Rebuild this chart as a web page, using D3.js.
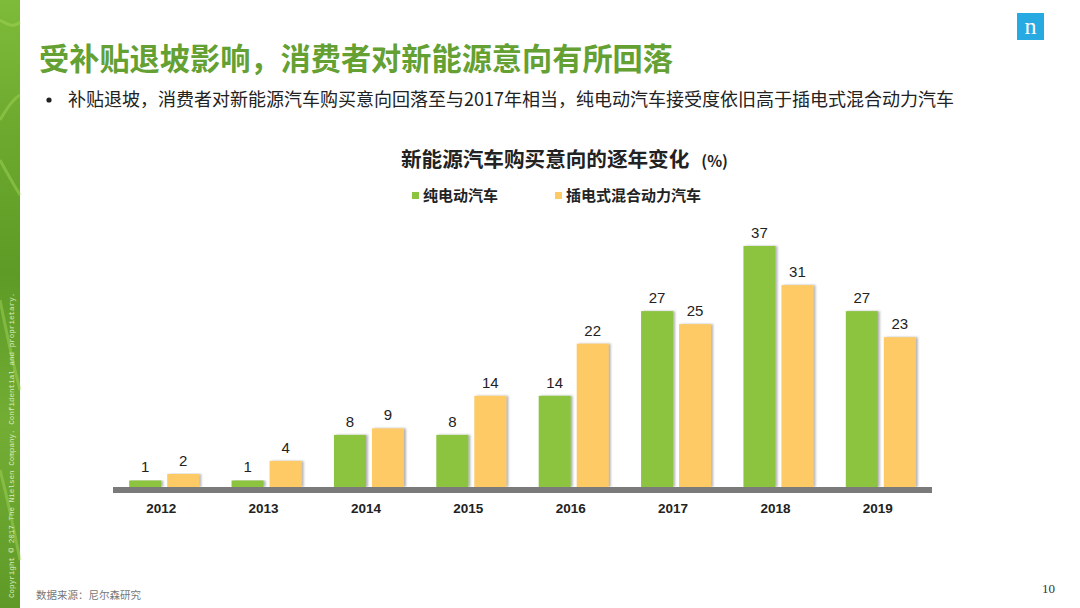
<!DOCTYPE html>
<html>
<head>
<meta charset="utf-8">
<script src="https://cdn.jsdelivr.net/npm/d3@7"></script>
<style>
  html, body { margin: 0; padding: 0; background: #fff; }
  svg { display: block; }
</style>
</head>
<body>
<div id="chart"></div>
<script>
// data
const years = ["2012", "2013", "2014", "2015", "2016", "2017", "2018", "2019"];
const seriesNames = ["纯电动汽车", "插电式混合动力汽车"];
const bevValues = [1, 1, 8, 8, 14, 27, 37, 27];
const phevValues = [2, 4, 9, 14, 22, 25, 31, 23];
const seriesColors = ["#8cc43f", "#fdca66"];

const width = 1080, height = 608;
const cjk = "'Noto Sans CJK SC', 'Microsoft YaHei', sans-serif";
const latin = "'Liberation Sans', Arial, 'Noto Sans CJK SC', sans-serif";

const svg = d3.select("#chart").append("svg")
    .attr("width", width)
    .attr("height", height);

const defs = svg.append("defs");

// Left decorative strip
const grad = defs.append("linearGradient")
    .attr("id", "strip").attr("x1", 0).attr("y1", 0).attr("x2", 0).attr("y2", 1);
[["0%", "#7fbb3a"], ["20%", "#6eaa2e"], ["45%", "#5d9b26"], ["70%", "#73ad34"], ["100%", "#5f9a28"]]
    .forEach(([o, c]) => grad.append("stop").attr("offset", o).attr("stop-color", c));

svg.append("rect").attr("x", 0).attr("y", 0).attr("width", 20).attr("height", height)
    .attr("fill", "url(#strip)");

// a few soft curved highlights in the strip
const curves = [
    "M0,20 C8,25 14,28 20,22",
    "M0,120 C6,110 12,100 20,95",
    "M0,160 C8,175 14,185 20,195",
    "M0,300 C6,330 12,360 20,390",
    "M0,470 C8,500 14,530 20,560"
];
svg.append("g").selectAll("path").data(curves).join("path")
    .attr("d", d => d)
    .attr("fill", "none")
    .attr("stroke", "#a6d65c")
    .attr("stroke-opacity", 0.45)
    .attr("stroke-width", 3);

svg.append("text")
    .attr("transform", "translate(14,598) rotate(-90)")
    .attr("font-family", "'Liberation Mono', 'DejaVu Sans Mono', monospace")
    .attr("font-size", 7.6)
    .attr("fill", "#d8ecc0")
    .text("Copyright © 2017 The Nielsen Company. Confidential and proprietary.");

// Nielsen logo
svg.append("rect").attr("x", 1017).attr("y", 13).attr("width", 27).attr("height", 27)
    .attr("fill", "#27a9e1");
svg.append("text")
    .attr("x", 1030.5).attr("y", 34)
    .attr("text-anchor", "middle")
    .attr("font-family", "'Liberation Serif', 'DejaVu Serif', serif")
    .attr("font-size", 24)
    .attr("fill", "#fff")
    .text("n");

// Slide title and bullet
svg.append("text")
    .attr("x", 39).attr("y", 70)
    .attr("font-family", cjk)
    .attr("font-size", 30.2)
    .attr("font-weight", "bold")
    .attr("fill", "#64a032")
    .text("受补贴退坡影响，消费者对新能源意向有所回落");

svg.append("circle")
    .attr("cx", 49).attr("cy", 100).attr("r", 2.6)
    .attr("fill", "#222");
svg.append("text")
    .attr("x", 68).attr("y", 106)
    .attr("font-family", cjk)
    .attr("font-size", 18)
    .attr("fill", "#222")
    .text("补贴退坡，消费者对新能源汽车购买意向回落至与2017年相当，纯电动汽车接受度依旧高于插电式混合动力汽车");

// Chart title
const ct = svg.append("text")
    .attr("x", 401).attr("y", 167)
    .attr("font-family", cjk)
    .attr("font-weight", "bold")
    .attr("fill", "#222");
ct.append("tspan").attr("font-size", 20.6).text("新能源汽车购买意向的逐年变化");
ct.append("tspan").attr("font-size", 15.5).attr("dx", 12).text("(%)");

// Legend
const legendX = [412, 555];
const legend = svg.append("g").selectAll("g").data(seriesNames).join("g")
    .attr("transform", (d, i) => `translate(${legendX[i]},191)`);
legend.append("rect").attr("width", 7).attr("height", 7).attr("y", 1)
    .attr("fill", (d, i) => seriesColors[i]);
legend.append("text")
    .attr("x", 11).attr("y", 10)
    .attr("font-family", cjk)
    .attr("font-size", 15)
    .attr("font-weight", "bold")
    .attr("fill", "#222")
    .text(d => d);

// Scales
const baseY = 487;
const x0 = d3.scaleBand().domain(years).range([113, 932]).padding(0);
const x1 = d3.scaleBand().domain(seriesNames).range([-35, 35]).paddingInner(0.158);
const y = d3.scaleLinear().domain([0, 37]).range([baseY, 246]);

const rows = years.map((yr, i) => ({
    year: yr,
    vals: [
        { key: seriesNames[0], value: bevValues[i], color: seriesColors[0] },
        { key: seriesNames[1], value: phevValues[i], color: seriesColors[1] }
    ]
}));

// soft shadow on bars
const shadow = defs.append("filter").attr("id", "shadow")
    .attr("x", "-20%").attr("y", "-5%").attr("width", "150%").attr("height", "110%");
shadow.append("feDropShadow")
    .attr("dx", 2).attr("dy", 0).attr("stdDeviation", 1)
    .attr("flood-color", "#555").attr("flood-opacity", 0.45);

const groups = svg.append("g").selectAll("g").data(rows).join("g")
    .attr("transform", d => `translate(${x0(d.year) + x0.bandwidth() / 2},0)`);

groups.selectAll("rect").data(d => d.vals).join("rect")
    .attr("x", d => x1(d.key))
    .attr("y", d => y(d.value))
    .attr("width", x1.bandwidth())
    .attr("height", d => baseY - y(d.value))
    .attr("fill", d => d.color)
    .attr("filter", "url(#shadow)");

groups.selectAll("text.val").data(d => d.vals).join("text")
    .attr("class", "val")
    .attr("x", d => x1(d.key) + x1.bandwidth() / 2)
    .attr("y", d => y(d.value) - 8)
    .attr("text-anchor", "middle")
    .attr("font-family", latin)
    .attr("font-size", 15)
    .attr("fill", "#222")
    .text(d => d.value);

// Baseline bar
svg.append("rect")
    .attr("x", x0.range()[0]).attr("y", baseY)
    .attr("width", x0.range()[1] - x0.range()[0]).attr("height", 6)
    .attr("fill", "#7a7a7a");

// x axis labels
const xAxis = svg.append("g")
    .attr("transform", `translate(-3,${baseY + 6})`)
    .call(d3.axisBottom(x0).tickSize(0).tickPadding(10));
xAxis.select(".domain").remove();
xAxis.selectAll("text")
    .attr("font-family", latin)
    .attr("font-size", 13.5)
    .attr("font-weight", "bold")
    .attr("fill", "#222");

// Footer
svg.append("text")
    .attr("x", 36).attr("y", 599)
    .attr("font-family", cjk)
    .attr("font-size", 10.5)
    .attr("fill", "#777")
    .text("数据来源：尼尔森研究");

svg.append("text")
    .attr("x", 1042).attr("y", 593)
    .attr("font-family", "'Liberation Serif', 'DejaVu Serif', serif")
    .attr("font-size", 13)
    .attr("fill", "#333")
    .text("10");
</script>
</body>
</html>
